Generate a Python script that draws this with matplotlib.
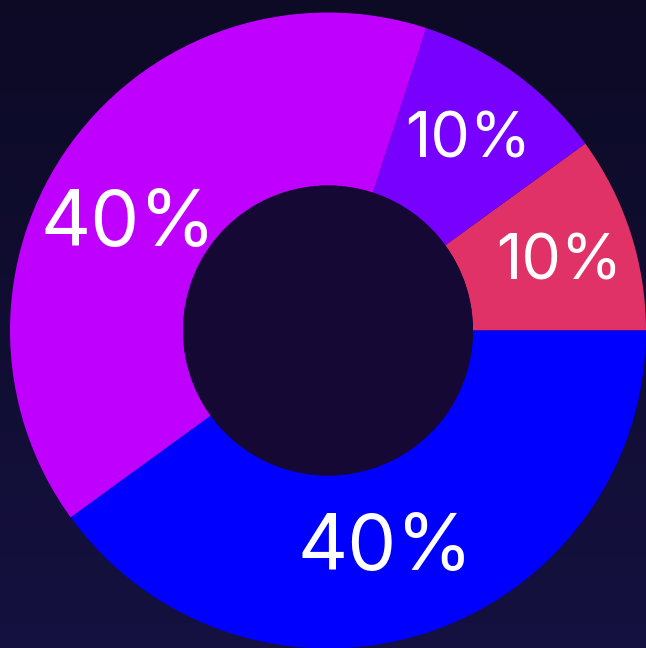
import matplotlib.pyplot as plt
import numpy as np
from matplotlib.patches import Circle

# slice data, counter-clockwise from 3 o'clock
shares = [10, 10, 40, 40]
colors = ['#e13268', '#7700ff', '#bf00ff', '#0000ff']
label_sizes = [45, 45, 56, 56]
# small nudges of the labels off the slice middle (degrees, radius)
label_turn = [-1.7, -0.5, 8.2, -3.4]
label_dist = [0.757, 0.741, 0.711, 0.713]

bg_top = np.array([12, 10, 37]) / 255
bg_bottom = np.array([21, 17, 64]) / 255
hole_color = '#150834'


def donut():
    fig = plt.figure(figsize=(6.46, 6.48), dpi=100)

    # background gradient
    bg = fig.add_axes([0, 0, 1, 1])
    t = np.linspace(0, 1, 256)[:, None, None]
    grad = bg_top * (1 - t) + bg_bottom * t
    bg.imshow(grad, aspect='auto', extent=[0, 1, 0, 1])
    bg.axis('off')

    ax = fig.add_axes([0, 0, 1, 1])
    ax.patch.set_alpha(0)
    wedges, texts, autotexts = ax.pie(
        shares, colors=colors, startangle=0, counterclock=True,
        radius=1.0, wedgeprops=dict(width=0.544, linewidth=0),
        autopct='%d%%', pctdistance=0.73,
        textprops=dict(color='white', family='Inter'))
    for w, txt, size, turn, dist in zip(wedges, autotexts, label_sizes,
                                         label_turn, label_dist):
        mid = np.radians((w.theta1 + w.theta2) / 2 + turn)
        txt.set_position((dist * np.cos(mid), dist * np.sin(mid)))
        txt.set_fontsize(size)

    ax.add_patch(Circle((0, 0), 0.456, facecolor=hole_color, linewidth=0))

    r = 318.0
    ax.set_xlim(-328 / r, 318 / r)
    ax.set_ylim(-317.5 / r, 330.5 / r)
    ax.axis('off')
    fig.savefig('out.png', dpi=100)


if __name__ == '__main__':
    donut()
